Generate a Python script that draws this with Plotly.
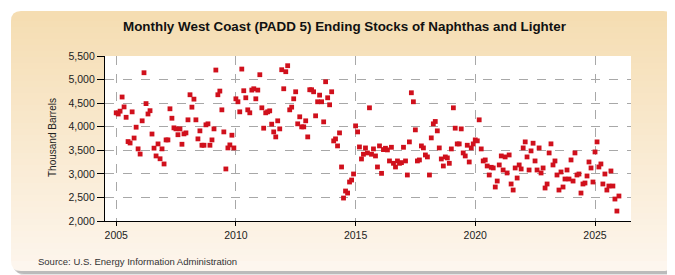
import pandas as pd
import plotly.graph_objects as go

# ---------------- data (thousand barrels), monthly starting Jan 2005 ----------------
start_month = "2005-01-01"
stocks_2005_2007 = [4295, 4270, 4330, 4630, 4420, 4200, 3685, 3655, 4315, 3760, 3990, 3530,
                    3420, 4125, 5145, 4490, 4270, 4340, 3845, 3545, 3380, 3635, 3320, 3530,
                    3210, 3720, 3720, 4380, 4180, 3976, 3955]
stocks_2007_2009 = [3830, 3954, 3628, 3848, 3869, 4146, 4678, 4415, 4585, 4146, 3742, 3912,
                    3607, 3607, 4040, 4061, 3607, 3720, 3954, 5202, 4678, 4756, 4358, 3890,
                    3104, 3550, 3614, 3820, 3550]
stocks_2010_2011 = [4592, 4529, 4316, 5223, 4763, 4614, 4358, 4295, 4777, 4805, 4592, 4777,
                    5103, 4401, 3969, 4295, 4316, 4337, 4054, 3890, 3784, 4125]
stocks_2011_2014 = [3954, 5209, 4805, 5167, 5294, 4358, 4415, 4592, 4741, 4061, 4210, 3997,
                    3997, 4125, 3784, 4784, 4784, 4741, 4231, 4529, 4670, 4529, 4103, 4954,
                    4614, 4465, 4741, 3699, 3742, 3593, 3869, 3146, 2487, 2636, 2593, 2827,
                    2869, 2997, 4018]
stocks_2015_2019 = [3890, 3571, 3316, 3416, 3550, 3444, 4401, 3416, 3529, 3380, 3146, 3593,
                    3011, 3515, 3543, 3508, 3274, 3564, 3224, 3146, 3274, 3224, 3238, 3564,
                    3274, 2976, 3678, 4720, 4529, 3933, 3274, 3295, 3593, 3550, 3401, 3359,
                    2976, 3763, 4061, 4111, 3912, 3550, 3316, 3167, 3359, 3338, 3224, 3529,
                    4401, 3969, 3635, 3635, 3954, 3444, 3380, 3607, 3252, 3550, 3635, 3720,
                    3700]
stocks_2020_2023 = [4146, 3529, 3274, 3295, 3167, 2976, 3139, 3125, 2721, 2848, 3189, 3380,
                    3082, 3359, 3019, 3401, 2785, 2657, 3125, 2912, 3189, 3104, 3550, 3678,
                    3359, 3082, 3487, 3650, 3274, 3082, 3550, 3019, 3125, 2700, 2785, 3444,
                    3636, 3189, 3274, 2976, 2657, 3040, 2721, 2891, 3082, 2891, 3295]
stocks_2024_2026 = [2848, 3444, 2976, 2997, 2593, 2785, 2806, 2955, 3252, 3125, 2827, 3465,
                    3678, 3146, 3210, 2785, 2997, 2657, 2742, 3061, 2742, 2466, 2211, 2530]

stocks = (stocks_2005_2007 + stocks_2007_2009 + stocks_2010_2011 + stocks_2011_2014
          + stocks_2015_2019 + stocks_2020_2023 + stocks_2024_2026)
months = pd.date_range(start_month, periods=len(stocks), freq="MS")

title_text = "Monthly West Coast (PADD 5) Ending Stocks of Naphthas and Lighter"
y_title = "Thousand Barrels"
source_text = "Source: U.S. Energy Information Administration"
y_ticks = [2000, 2500, 3000, 3500, 4000, 4500, 5000, 5500]

# ---------------- layout geometry (pixels) ----------------
W, H = 675, 275
ML, MR, MT, MB = 97, 52, 48, 62
PW, PH = W - ML - MR, H - MT - MB


def px(x):
    return (x - ML) / PW


def py(y):
    return (H - MB - y) / PH


def rounded_path(x0, y0, x1, y1, r, top=True, bottom=True):
    rx, ry = r / PW, r / PH
    X0, X1 = px(x0), px(x1)
    YT, YB = py(y0), py(y1)
    parts = []
    if top:
        parts.append(f"M {X0+rx},{YT} L {X1-rx},{YT} Q {X1},{YT} {X1},{YT-ry}")
    else:
        parts.append(f"M {X0},{YT} L {X1},{YT}")
    if bottom:
        parts.append(f"L {X1},{YB+ry} Q {X1},{YB} {X1-rx},{YB} L {X0+rx},{YB} Q {X0},{YB} {X0},{YB+ry}")
    else:
        parts.append(f"L {X1},{YB} L {X0},{YB}")
    if top:
        parts.append(f"L {X0},{YT-ry} Q {X0},{YT} {X0+rx},{YT} Z")
    else:
        parts.append("Z")
    return " ".join(parts)


def mix(c1, c2, t):
    return "rgb(%d,%d,%d)" % tuple(round(a + (b - a) * t) for a, b in zip(c1, c2))


shapes = []
# shadow
shapes.append(dict(type="path", xref="paper", yref="paper", layer="below",
                   path=rounded_path(7, 7, 670, 268, 12), fillcolor="rgba(0,0,0,0.10)", line_width=0))
shapes.append(dict(type="path", xref="paper", yref="paper", layer="below",
                   path=rounded_path(5, 5, 668, 266, 11), fillcolor="rgba(0,0,0,0.18)", line_width=0))
# panel gradient
top_c = (245, 221, 178)
bot_c = (253, 246, 238)
px0, py0, px1, py1, rad = 3, 3, 665, 263, 10
span0, span1 = py0 + rad, py1 - rad
shapes.append(dict(type="path", xref="paper", yref="paper", layer="below",
                   path=rounded_path(px0, py0, px1, span0 + 1, rad, top=True, bottom=False),
                   fillcolor=mix(top_c, bot_c, 0), line_width=0))
nb = 40
for i in range(nb):
    ya = span0 + (span1 - span0) * i / nb
    yb = span0 + (span1 - span0) * (i + 1) / nb + 0.6
    t = (ya - py0) / (py1 - py0)
    shapes.append(dict(type="rect", xref="paper", yref="paper", layer="below",
                       x0=px(px0), x1=px(px1), y0=py(yb), y1=py(ya),
                       fillcolor=mix(top_c, bot_c, t), line_width=0))
shapes.append(dict(type="path", xref="paper", yref="paper", layer="below",
                   path=rounded_path(px0, span1, px1, py1, rad, top=False, bottom=True),
                   fillcolor=mix(top_c, bot_c, 1), line_width=0))
# white plotting area
shapes.append(dict(type="rect", xref="paper", yref="paper", layer="below",
                   x0=0, x1=1, y0=0, y1=1, fillcolor="white", line_width=0))

fig = go.Figure()
fig.add_trace(go.Scatter(
    x=months, y=stocks, mode="markers",
    marker=dict(symbol="square", size=4.8, color="#d0101c", line=dict(width=0)),
    hovertemplate="%{x|%b %Y}: %{y:,}<extra></extra>",
    showlegend=False,
))

font_family = "Liberation Sans, Arial, sans-serif"
fig.update_layout(
    width=W, height=H,
    margin=dict(l=ML, r=MR, t=MT, b=MB, pad=0),
    paper_bgcolor="white", plot_bgcolor="white",
    font=dict(family=font_family, size=10.5, color="#222"),
    shapes=shapes,
    annotations=[
        dict(text=f"<b>{title_text}</b>", xref="paper", yref="paper",
             x=px(337), y=py(19), xanchor="center", yanchor="middle", showarrow=False,
             font=dict(size=13.4, color="#111", family=font_family)),
        dict(text=y_title, xref="paper", yref="paper", x=px(44), y=py(130),
             xanchor="center", yanchor="middle", textangle=-90, showarrow=False,
             font=dict(size=10, color="#222", family=font_family)),
        dict(text=source_text, xref="paper", yref="paper", x=px(28), y=py(253),
             xanchor="left", yanchor="middle", showarrow=False,
             font=dict(size=9.5, color="#333", family=font_family)),
    ],
    xaxis=dict(
        type="date",
        range=["2004-07-14", "2026-07-04"],
        tick0="2005-01-01", dtick="M60", tickformat="%Y",
        showgrid=True, gridcolor="#a8a8a8", griddash="dash", gridwidth=1,
        showline=True, linecolor="black", linewidth=1.2,
        ticks="outside", ticklen=4, tickcolor="black",
        zeroline=False, fixedrange=True,
        tickfont=dict(size=10.5, color="#222"),
    ),
    yaxis=dict(
        range=[2000, 5500], tickvals=y_ticks, tickformat=",",
        showgrid=True, gridcolor="#a8a8a8", griddash="dash", gridwidth=1,
        showline=True, linecolor="black", linewidth=1.2,
        ticks="outside", ticklen=7, tickcolor="black",
        zeroline=False, fixedrange=True,
        tickfont=dict(size=10.5, color="#222"),
    ),
)

fig.write_html("out.html")
